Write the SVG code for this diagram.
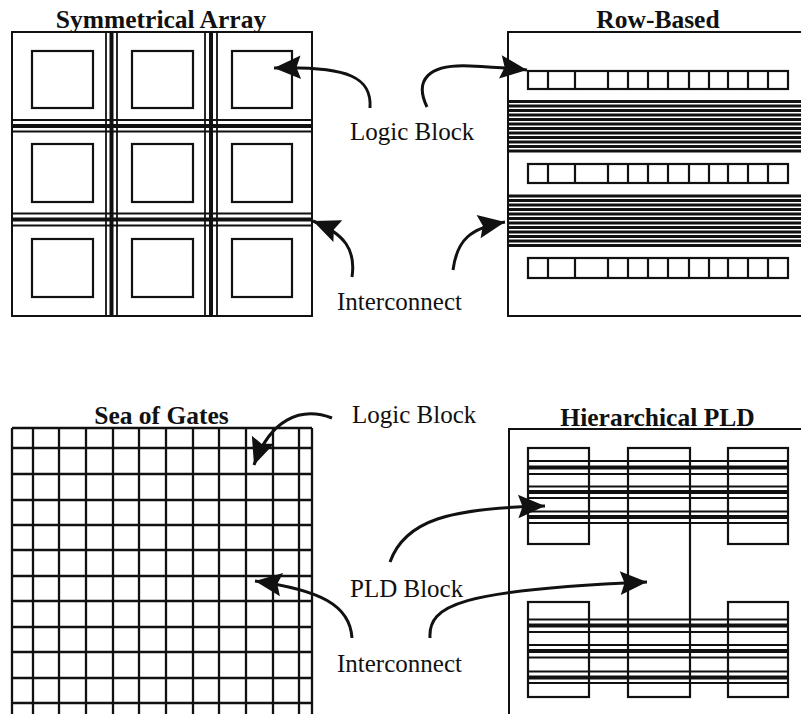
<svg xmlns="http://www.w3.org/2000/svg" width="801" height="714" viewBox="0 0 801 714">
<style>
.t{font-family:"Liberation Serif","Times New Roman",serif;font-weight:bold;font-size:25.5px;fill:#111;text-anchor:middle}
.l{font-family:"Liberation Serif","Times New Roman",serif;font-size:25px;fill:#111}
.o{fill:none;stroke:#111;stroke-width:2}
.b{fill:none;stroke:#111;stroke-width:2.2}
.g{stroke:#111;stroke-width:2.3;fill:none}
.bt{stroke:#111;stroke-width:3;fill:none}
.th{stroke:#111;stroke-width:1.8;fill:none}
.tk{stroke:#111;stroke-width:4;fill:none}
.a{fill:none;stroke:#111;stroke-width:3}
</style>
<defs>
<marker id="ah" markerUnits="userSpaceOnUse" markerWidth="30" markerHeight="30" viewBox="-26 -13 28 26" refX="0" refY="0" orient="auto">
<path d="M0,0 L-25,-11 L-21,0 L-25,11 Z" fill="#111"/>
</marker>
</defs>
<rect width="801" height="714" fill="#fff"/>

<g id="symmetrical-array">
<text class="t" x="161" y="28">Symmetrical Array</text>
<rect class="o" x="12" y="32" width="300" height="284"/>
<g class="b">
<rect x="32" y="51" width="61" height="57"/>
<rect x="132" y="51" width="61" height="57"/>
<rect x="232" y="51" width="60" height="57"/>
<rect x="32" y="144" width="61" height="58"/>
<rect x="132" y="144" width="61" height="58"/>
<rect x="232" y="144" width="60" height="58"/>
<rect x="32" y="239" width="61" height="58"/>
<rect x="132" y="239" width="61" height="58"/>
<rect x="232" y="239" width="60" height="58"/>
</g>
<g>
<line class="th" x1="106" y1="32" x2="106" y2="316"/>
<line class="tk" x1="111.5" y1="32" x2="111.5" y2="316"/>
<line class="th" x1="117" y1="32" x2="117" y2="316"/>
<line class="th" x1="205" y1="32" x2="205" y2="316"/>
<line class="tk" x1="211" y1="32" x2="211" y2="316"/>
<line class="th" x1="217" y1="32" x2="217" y2="316"/>
<line class="th" x1="12" y1="120" x2="312" y2="120"/>
<line class="tk" x1="12" y1="126" x2="312" y2="126"/>
<line class="th" x1="12" y1="131.5" x2="312" y2="131.5"/>
<line class="th" x1="12" y1="213.5" x2="312" y2="213.5"/>
<line class="tk" x1="12" y1="219.5" x2="312" y2="219.5"/>
<line class="th" x1="12" y1="225.5" x2="312" y2="225.5"/>
</g>
</g>

<g id="row-based">
<text class="t" x="658" y="28">Row-Based</text>
<rect class="o" x="508" y="32" width="300" height="284"/>
<g class="b">
<rect x="528" y="71" width="260" height="18"/>
<rect x="528" y="164" width="260" height="19"/>
<rect x="528" y="258" width="260" height="20"/>
<path d="M548,71V89M575,71V89M608,71V89M628,71V89M648,71V89M668,71V89M689,71V89M709,71V89M728,71V89M748,71V89M768,71V89
M548,164V183M575,164V183M608,164V183M628,164V183M648,164V183M668,164V183M689,164V183M709,164V183M728,164V183M748,164V183M768,164V183
M548,258V278M575,258V278M608,258V278M628,258V278M648,258V278M668,258V278M689,258V278M709,258V278M728,258V278M748,258V278M768,258V278"/>
</g>
<path class="bt" d="M508,101.5H801M508,106H801M508,110.5H801M508,115H801M508,119.5H801M508,124H801M508,128.5H801M508,133H801M508,137.5H801M508,142H801M508,146.5H801M508,151H801"/>
<path class="bt" d="M508,196H801M508,200.5H801M508,205H801M508,209.5H801M508,214H801M508,218.5H801M508,223H801M508,227.5H801M508,232H801M508,236.5H801M508,241H801M508,245.5H801"/>
</g>

<g id="sea-of-gates">
<text class="t" x="161.5" y="424">Sea of Gates</text>
<path class="g" d="M12,428V714M33,428V714M59,428V714M86,428V714M113,428V714M139,428V714M166,428V714M193,428V714M219,428V714M246,428V714M273,428V714M299,428V714M312,428V714
M12,428H312M12,448H312M12,474H312M12,500H312M12,525H312M12,550H312M12,576H312M12,601H312M12,627H312M12,652H312M12,678H312M12,703H312"/>
</g>

<g id="hierarchical-pld">
<text class="t" x="657.5" y="426">Hierarchical PLD</text>
<rect class="o" x="509" y="429" width="300" height="300"/>
<g class="b">
<rect x="528" y="448" width="61" height="96"/>
<rect x="628" y="448" width="62" height="249"/>
<rect x="728" y="448" width="60" height="96"/>
<rect x="528" y="602" width="61" height="95"/>
<rect x="728" y="602" width="60" height="95"/>
</g>
<path class="th" d="M528,461H788M528,474H788M528,486.5H788M528,498H788M528,511.5H788M528,523H788"/>
<path class="tk" d="M528,467.5H788M528,492H788M528,517H788"/>
<path class="th" d="M528,619.5H788M528,632H788M528,645H788M528,657.5H788M528,671.5H788M528,683H788"/>
<path class="tk" d="M528,625.5H788M528,651H788M528,677.5H788"/>
</g>

<g id="label-logic-block-top"><text class="l" x="350" y="140">Logic Block</text></g>
<g id="label-interconnect-top"><text class="l" x="337" y="310">Interconnect</text></g>
<g id="label-logic-block-bottom"><text class="l" x="352" y="423">Logic Block</text></g>
<g id="label-pld-block"><text class="l" x="350" y="597">PLD Block</text></g>
<g id="label-interconnect-bottom"><text class="l" x="337" y="672">Interconnect</text></g>

<g id="connectors">
<path class="a" marker-end="url(#ah)" d="M370,108 C372,78 350,66 274,68"/>
<path class="a" marker-end="url(#ah)" d="M427,107 C414,80 428,64 470,66 C492,67 510,68 527,70"/>
<path class="a" marker-end="url(#ah)" d="M352,277 C356,250 345,234 313,221"/>
<path class="a" marker-end="url(#ah)" d="M453,270 C457,240 470,228 505,222"/>
<path class="a" marker-end="url(#ah)" d="M332,418 C300,406 270,420 254,465"/>
<path class="a" marker-end="url(#ah)" d="M390,562 C405,520 450,508 545,506"/>
<path class="a" marker-end="url(#ah)" d="M352,638 C350,605 320,590 255,581"/>
<path class="a" marker-end="url(#ah)" d="M430,638 C428,605 460,590 647,582"/>
</g>
</svg>
